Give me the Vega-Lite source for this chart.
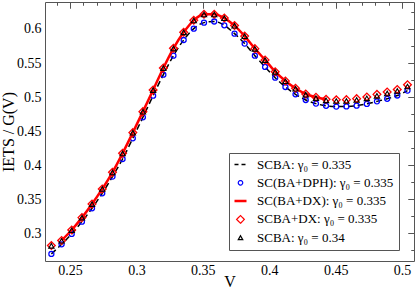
{
  "$schema": "https://vega.github.io/schema/vega-lite/v6.json",
  "width": 369,
  "height": 259,
  "autosize": {"type": "none"},
  "padding": {"left": 45, "top": 2, "right": 1, "bottom": 28},
  "config": {
    "font": "Liberation Serif",
    "view": {"stroke": "#555", "strokeWidth": 1},
    "axis": {
      "grid": false,
      "domain": false,
      "labelFont": "Liberation Serif",
      "labelFontSize": 14,
      "labelColor": "#000",
      "tickColor": "#555",
      "tickWidth": 1,
      "titleFont": "Liberation Serif",
      "titleFontWeight": "normal",
      "titleColor": "#000",
      "titleFontSize": 16,
      "format": "~g"
    }
  },
  "data": {
    "values": [
      {"V": 0.2360, "dash": 0.2697, "dph": 0.2697, "dxl": null, "dx": 0.2820, "g34": 0.2815},
      {"V": 0.2437, "dash": 0.2838, "dph": 0.2838, "dxl": 0.2895, "dx": 0.2895, "g34": 0.2890},
      {"V": 0.2513, "dash": 0.2990, "dph": 0.2990, "dxl": 0.3048, "dx": 0.3048, "g34": 0.3045},
      {"V": 0.2590, "dash": 0.3171, "dph": 0.3171, "dxl": 0.3230, "dx": 0.3230, "g34": 0.3228},
      {"V": 0.2666, "dash": 0.3367, "dph": 0.3367, "dxl": 0.3430, "dx": 0.3430, "g34": 0.3428},
      {"V": 0.2743, "dash": 0.3587, "dph": 0.3587, "dxl": 0.3651, "dx": 0.3651, "g34": 0.3650},
      {"V": 0.2820, "dash": 0.3832, "dph": 0.3832, "dxl": 0.3895, "dx": 0.3895, "g34": 0.3893},
      {"V": 0.2896, "dash": 0.4091, "dph": 0.4091, "dxl": 0.4174, "dx": 0.4174, "g34": 0.4172},
      {"V": 0.2973, "dash": 0.4395, "dph": 0.4395, "dxl": 0.4478, "dx": 0.4478, "g34": 0.4476},
      {"V": 0.3049, "dash": 0.4703, "dph": 0.4703, "dxl": 0.4786, "dx": 0.4786, "g34": 0.4785},
      {"V": 0.3126, "dash": 0.5021, "dph": 0.5021, "dxl": 0.5104, "dx": 0.5104, "g34": 0.5102},
      {"V": 0.3203, "dash": 0.5329, "dph": 0.5329, "dxl": 0.5427, "dx": 0.5427, "g34": 0.5425},
      {"V": 0.3279, "dash": 0.5608, "dph": 0.5608, "dxl": 0.5716, "dx": 0.5716, "g34": 0.5714},
      {"V": 0.3356, "dash": 0.5838, "dph": 0.5838, "dxl": 0.5951, "dx": 0.5951, "g34": 0.5950},
      {"V": 0.3432, "dash": 0.6005, "dph": 0.6005, "dxl": 0.6127, "dx": 0.6127, "g34": 0.6125},
      {"V": 0.3509, "dash": 0.6093, "dph": 0.6093, "dxl": 0.6215, "dx": 0.6215, "g34": 0.6213},
      {"V": 0.3586, "dash": 0.6110, "dph": 0.6110, "dxl": 0.6215, "dx": 0.6215, "g34": 0.6213},
      {"V": 0.3662, "dash": 0.6054, "dph": 0.6054, "dxl": 0.6160, "dx": 0.6160, "g34": 0.6158},
      {"V": 0.3739, "dash": 0.5931, "dph": 0.5931, "dxl": 0.6050, "dx": 0.6050, "g34": 0.6048},
      {"V": 0.3815, "dash": 0.5785, "dph": 0.5785, "dxl": 0.5895, "dx": 0.5895, "g34": 0.5893},
      {"V": 0.3892, "dash": 0.5608, "dph": 0.5608, "dxl": 0.5711, "dx": 0.5711, "g34": 0.5709},
      {"V": 0.3969, "dash": 0.5442, "dph": 0.5442, "dxl": 0.5545, "dx": 0.5545, "g34": 0.5543},
      {"V": 0.4045, "dash": 0.5285, "dph": 0.5285, "dxl": 0.5373, "dx": 0.5373, "g34": 0.5370},
      {"V": 0.4122, "dash": 0.5148, "dph": 0.5148, "dxl": 0.5236, "dx": 0.5236, "g34": 0.5232},
      {"V": 0.4198, "dash": 0.5041, "dph": 0.5041, "dxl": 0.5129, "dx": 0.5129, "g34": 0.5122},
      {"V": 0.4275, "dash": 0.4957, "dph": 0.4957, "dxl": 0.5045, "dx": 0.5045, "g34": 0.5035},
      {"V": 0.4352, "dash": 0.4904, "dph": 0.4904, "dxl": 0.4997, "dx": 0.4997, "g34": 0.4985},
      {"V": 0.4428, "dash": 0.4872, "dph": 0.4872, "dxl": 0.4967, "dx": 0.4967, "g34": 0.4952},
      {"V": 0.4505, "dash": 0.4860, "dph": 0.4860, "dxl": null, "dx": 0.4960, "g34": 0.4942},
      {"V": 0.4581, "dash": 0.4862, "dph": 0.4862, "dxl": null, "dx": 0.4962, "g34": 0.4943},
      {"V": 0.4658, "dash": 0.4874, "dph": 0.4874, "dxl": null, "dx": 0.4977, "g34": 0.4957},
      {"V": 0.4735, "dash": 0.4900, "dph": 0.4900, "dxl": null, "dx": 0.5002, "g34": 0.4982},
      {"V": 0.4811, "dash": 0.4937, "dph": 0.4937, "dxl": null, "dx": 0.5040, "g34": 0.5018},
      {"V": 0.4888, "dash": 0.4975, "dph": 0.4975, "dxl": null, "dx": 0.5075, "g34": 0.5053},
      {"V": 0.4964, "dash": 0.5023, "dph": 0.5023, "dxl": null, "dx": 0.5112, "g34": 0.5090},
      {"V": 0.5041, "dash": 0.5095, "dph": 0.5095, "dxl": null, "dx": 0.5182, "g34": 0.5155}
    ]
  },
  "resolve": {"axis": {"x": "independent", "y": "independent"}},
  "layer": [
    {
      "transform": [{"fold": ["dash"], "as": ["series", "value"]}],
      "mark": {"type": "line", "strokeDash": [6, 3.5], "strokeWidth": 1.5, "interpolate": "monotone"},
      "encoding": {
        "x": {"field": "V", "type": "quantitative",
              "scale": {"domain": [0.2312, 0.509], "nice": false, "zero": false},
              "axis": {"values": [0.25, 0.3, 0.35, 0.4, 0.45, 0.5], "ticks": false, "labelPadding": 2, "title": "V", "titlePadding": -4}},
        "y": {"field": "value", "type": "quantitative",
              "scale": {"domain": [0.2593, 0.6396], "nice": false, "zero": false},
              "axis": {"values": [0.3, 0.35, 0.4, 0.45, 0.5, 0.55, 0.6], "ticks": false, "labelPadding": 4, "title": "IETS / G(V)", "titlePadding": 0}},
        "color": {"field": "series", "type": "nominal",
                  "scale": {"domain": ["dash", "dph", "dxl", "dx", "g34"], "range": ["#000000", "#0000ff", "#ff0000", "#ff0000", "#000000"]},
                  "legend": {
                    "orient": "none", "legendX": 184, "legendY": 151, "title": null,
                    "labelExpr": "datum.label == 'dash' ? 'SCBA: γ₀ = 0.335' : datum.label == 'dph' ? 'SC(BA+DPH): γ₀ = 0.335' : datum.label == 'dxl' ? 'SC(BA+DX): γ₀ = 0.335' : datum.label == 'dx' ? 'SCBA+DX: γ₀ = 0.335' : 'SCBA: γ₀ = 0.34'",
                    "labelFont": "Liberation Serif", "labelFontSize": 13, "labelColor": "#000",
                    "strokeColor": "#555", "fillColor": "#ffffff", "padding": 5, "rowPadding": 4.3, "labelOffset": 10,
                    "encode": {"symbols": {"update": {
                      "shape": {"signal": "datum.value == 'dash' || datum.value == 'dxl' ? 'stroke' : datum.value == 'dph' ? 'circle' : datum.value == 'dx' ? 'diamond' : 'triangle-up'"},
                      "size": {"signal": "datum.value == 'dash' || datum.value == 'dxl' ? 144 : datum.value == 'dx' ? 60 : 20"},
                      "strokeDash": {"signal": "datum.value == 'dash' ? [4, 3] : [1, 0]"},
                      "strokeWidth": {"signal": "datum.value == 'dxl' ? 2.5 : datum.value == 'dash' ? 1.5 : 1.2"},
                      "fill": {"value": "transparent"},
                      "stroke": {"scale": "color", "field": "value"},
                      "opacity": {"value": 1}
                    }}}
                  }}
      }
    },
    {
      "transform": [{"fold": ["dph"], "as": ["series", "value"]}],
      "mark": {"type": "point", "shape": "circle", "filled": false, "size": 25, "strokeWidth": 1.3, "opacity": 1},
      "encoding": {
        "x": {"field": "V", "type": "quantitative",
              "axis": {"values": [0.25, 0.3, 0.35, 0.4, 0.45, 0.5], "labels": false, "tickSize": -6, "title": null}},
        "y": {"field": "value", "type": "quantitative",
              "axis": {"values": [0.3, 0.35, 0.4, 0.45, 0.5, 0.55, 0.6], "labels": false, "tickSize": -6, "title": null}},
        "color": {"field": "series", "type": "nominal"}
      }
    },
    {
      "transform": [{"fold": ["dxl"], "as": ["series", "value"]}],
      "mark": {"type": "line", "strokeWidth": 2.5, "interpolate": "monotone"},
      "encoding": {
        "x": {"field": "V", "type": "quantitative",
              "axis": {"values": [0.24, 0.26, 0.27, 0.28, 0.29, 0.31, 0.32, 0.33, 0.34, 0.36, 0.37, 0.38, 0.39, 0.41, 0.42, 0.43, 0.44, 0.46, 0.47, 0.48, 0.49], "labels": false, "tickSize": -3, "title": null}},
        "y": {"field": "value", "type": "quantitative",
              "axis": {"values": [0.275, 0.325, 0.375, 0.425, 0.475, 0.525, 0.575, 0.625], "labels": false, "tickSize": -3, "title": null}},
        "color": {"field": "series", "type": "nominal"}
      }
    },
    {
      "transform": [{"fold": ["dx"], "as": ["series", "value"]}],
      "mark": {"type": "point", "shape": "diamond", "filled": false, "size": 60, "strokeWidth": 1.3, "opacity": 1},
      "encoding": {
        "x": {"field": "V", "type": "quantitative",
              "axis": {"orient": "top", "values": [0.25, 0.3, 0.35, 0.4, 0.45, 0.5], "labels": false, "tickSize": -6, "title": null}},
        "y": {"field": "value", "type": "quantitative",
              "axis": {"orient": "right", "values": [0.3, 0.35, 0.4, 0.45, 0.5, 0.55, 0.6], "labels": false, "tickSize": -6, "title": null}},
        "color": {"field": "series", "type": "nominal"}
      }
    },
    {
      "transform": [{"fold": ["g34"], "as": ["series", "value"]}],
      "mark": {"type": "point", "shape": "triangle-up", "filled": false, "size": 28, "strokeWidth": 1.1, "opacity": 1},
      "encoding": {
        "x": {"field": "V", "type": "quantitative",
              "axis": {"orient": "top", "values": [0.24, 0.26, 0.27, 0.28, 0.29, 0.31, 0.32, 0.33, 0.34, 0.36, 0.37, 0.38, 0.39, 0.41, 0.42, 0.43, 0.44, 0.46, 0.47, 0.48, 0.49], "labels": false, "tickSize": -3, "title": null}},
        "y": {"field": "value", "type": "quantitative",
              "axis": {"orient": "right", "values": [0.275, 0.325, 0.375, 0.425, 0.475, 0.525, 0.575, 0.625], "labels": false, "tickSize": -3, "title": null}},
        "color": {"field": "series", "type": "nominal"}
      }
    }
  ]
}
